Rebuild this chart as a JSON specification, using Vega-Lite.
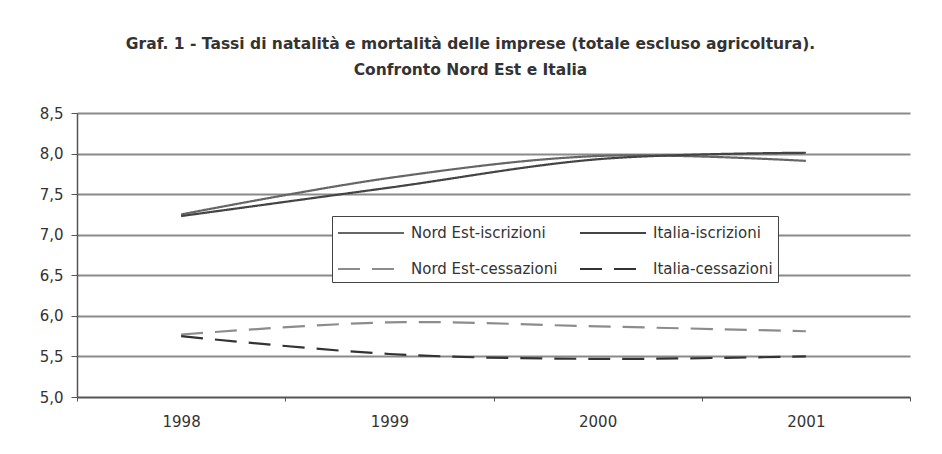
{
  "$schema": "https://vega.github.io/schema/vega-lite/v6.json",
  "autosize": "none",
  "width": 833,
  "height": 284,
  "padding": {"left": 77, "top": 113, "right": 32, "bottom": 57},
  "background": "white",
  "title": {
    "text": ["Graf. 1 - Tassi di natalità e mortalità delle imprese (totale escluso agricoltura).", "Confronto Nord Est e Italia"],
    "font": "DejaVu Sans",
    "fontSize": 15.5,
    "fontWeight": "bold",
    "color": "#333333",
    "anchor": "middle",
    "dx": -23,
    "offset": 28,
    "lineHeight": 26
  },
  "data": {
    "values": [
      {"anno": "1998", "serie": "Nord Est-iscrizioni", "valore": 7.25},
      {"anno": "1999", "serie": "Nord Est-iscrizioni", "valore": 7.70},
      {"anno": "2000", "serie": "Nord Est-iscrizioni", "valore": 7.97},
      {"anno": "2001", "serie": "Nord Est-iscrizioni", "valore": 7.91},
      {"anno": "1998", "serie": "Italia-iscrizioni", "valore": 7.23},
      {"anno": "1999", "serie": "Italia-iscrizioni", "valore": 7.58},
      {"anno": "2000", "serie": "Italia-iscrizioni", "valore": 7.93},
      {"anno": "2001", "serie": "Italia-iscrizioni", "valore": 8.01},
      {"anno": "1998", "serie": "Nord Est-cessazioni", "valore": 5.77},
      {"anno": "1999", "serie": "Nord Est-cessazioni", "valore": 5.92},
      {"anno": "2000", "serie": "Nord Est-cessazioni", "valore": 5.87},
      {"anno": "2001", "serie": "Nord Est-cessazioni", "valore": 5.81},
      {"anno": "1998", "serie": "Italia-cessazioni", "valore": 5.75},
      {"anno": "1999", "serie": "Italia-cessazioni", "valore": 5.53},
      {"anno": "2000", "serie": "Italia-cessazioni", "valore": 5.47},
      {"anno": "2001", "serie": "Italia-cessazioni", "valore": 5.50}
    ]
  },
  "mark": {"type": "line", "interpolate": "catmull-rom", "strokeWidth": 2.2},
  "encoding": {
    "x": {
      "field": "anno",
      "type": "ordinal",
      "scale": {"paddingInner": 0, "paddingOuter": 0},
      "axis": {
        "title": null,
        "labelAngle": 0,
        "tickBand": "extent",
        "grid": false,
        "domainColor": "#555555",
        "domainWidth": 1.5,
        "tickColor": "#555555",
        "tickSize": 4,
        "labelPadding": 13,
        "labelFont": "DejaVu Sans",
        "labelFontSize": 15,
        "labelColor": "#333333"
      }
    },
    "y": {
      "field": "valore",
      "type": "quantitative",
      "scale": {"domain": [5, 8.5], "nice": false, "zero": false},
      "axis": {
        "title": null,
        "values": [5, 5.5, 6, 6.5, 7, 7.5, 8, 8.5],
        "labelExpr": "replace(format(datum.value, '.1f'), '.', ',')",
        "grid": true,
        "gridColor": "#8a8a8a",
        "gridWidth": 2,
        "domainColor": "#555555",
        "domainWidth": 1.5,
        "tickColor": "#555555",
        "tickSize": 6,
        "labelPadding": 8,
        "labelFont": "DejaVu Sans",
        "labelFontSize": 15,
        "labelColor": "#333333"
      }
    },
    "color": {
      "field": "serie",
      "type": "nominal",
      "scale": {
        "domain": ["Nord Est-iscrizioni", "Italia-iscrizioni", "Nord Est-cessazioni", "Italia-cessazioni"],
        "range": ["#666666", "#444444", "#8c8c8c", "#333333"]
      },
      "legend": {
        "title": null,
        "orient": "none",
        "legendX": 255,
        "legendY": 103,
        "direction": "horizontal",
        "columns": 2,
        "fillColor": "white",
        "strokeColor": "#444444",
        "padding": 5,
        "symbolType": "M-1,0H5",
        "symbolSize": 484,
        "symbolStrokeWidth": 1.8,
        "labelFont": "DejaVu Sans",
        "labelFontSize": 15,
        "labelColor": "#333333",
        "columnPadding": 18,
        "rowPadding": 16,
        "labelOffset": 50
      }
    },
    "strokeDash": {
      "field": "serie",
      "type": "nominal",
      "scale": {
        "domain": ["Nord Est-iscrizioni", "Italia-iscrizioni", "Nord Est-cessazioni", "Italia-cessazioni"],
        "range": [[1, 0], [1, 0], [22, 12], [22, 12]]
      },
      "legend": null
    }
  },
  "config": {
    "view": {"stroke": null},
    "axis": {"gridCap": "butt"}
  }
}
